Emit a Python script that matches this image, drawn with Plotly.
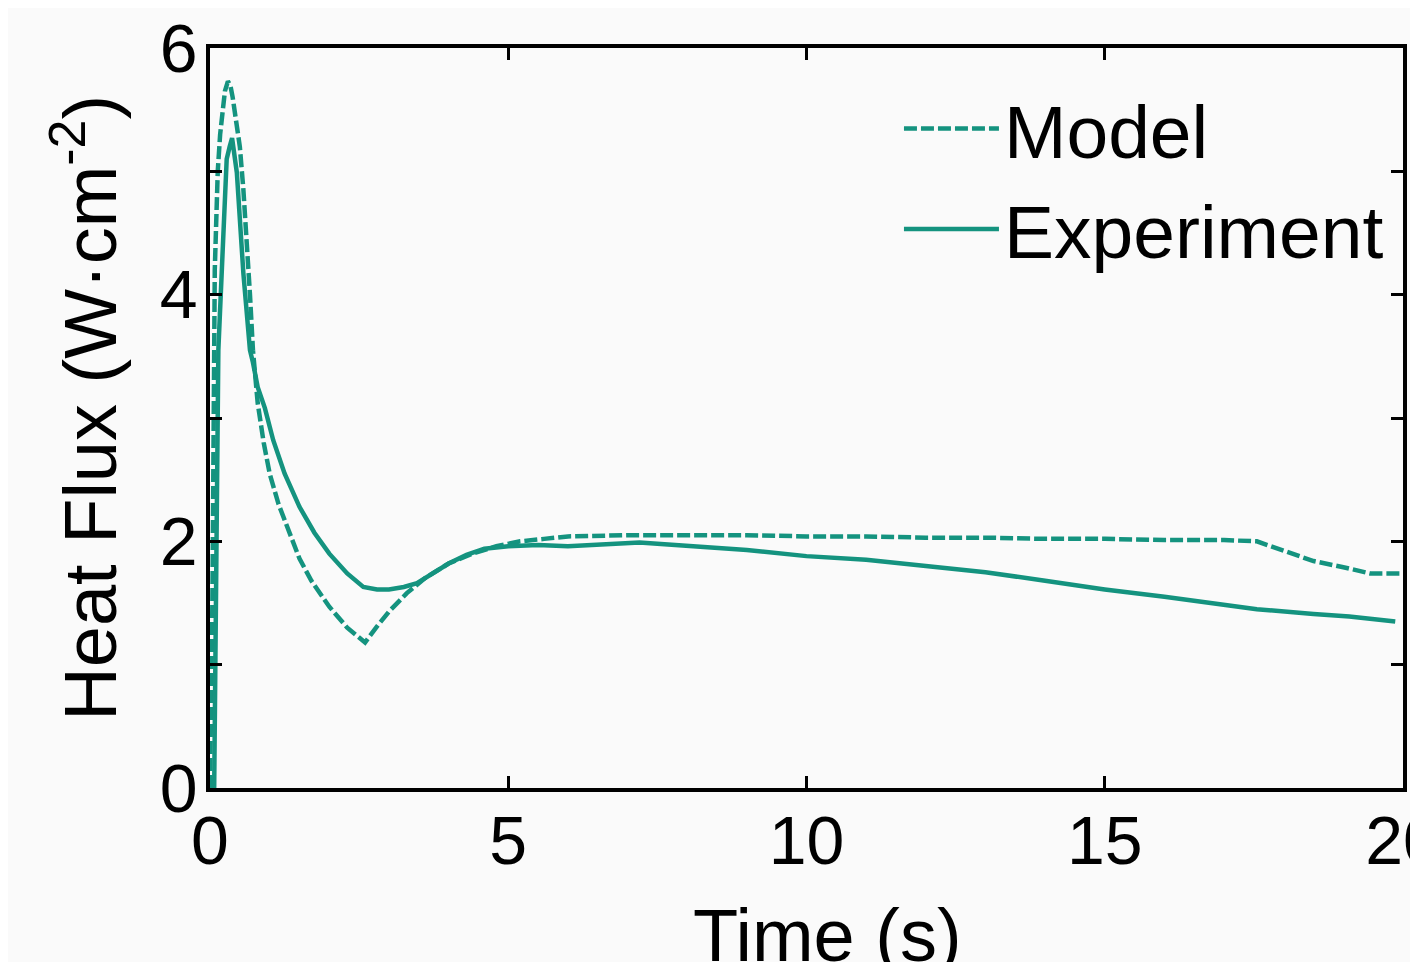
import plotly.graph_objects as go

# ---- data ----
t_model = [0, 0.04, 0.08, 0.13, 0.17, 0.21, 0.25, 0.3, 0.34, 0.38, 0.43, 0.5, 0.56, 0.62, 0.67,
           0.72, 0.8, 0.9, 1.0, 1.15, 1.3, 1.5, 1.7, 2.0, 2.3, 2.6, 2.8, 3.0, 3.3, 3.6, 4.0,
           4.4, 4.8, 5.2, 5.6, 6.0, 7.0, 8.0, 9.0, 10.0, 11.0, 12.0, 13.0, 14.0, 15.0, 16.0,
           17.0, 17.55, 18.0, 18.5, 19.0, 19.45, 20.0]
q_model = [0, 1.5, 4.2, 5.0, 5.3, 5.5, 5.65, 5.73, 5.7, 5.6, 5.45, 5.2, 4.85, 4.44, 4.0,
           3.55, 3.12, 2.8, 2.55, 2.3, 2.1, 1.86, 1.68, 1.47, 1.3, 1.18, 1.31, 1.43, 1.58, 1.7, 1.82,
           1.9, 1.96, 2.0, 2.02, 2.04, 2.05, 2.05, 2.05, 2.04, 2.04, 2.03, 2.03, 2.02, 2.02, 2.01,
           2.01, 2.0, 1.92, 1.84, 1.79, 1.74, 1.74]

t_exp = [0.07, 0.1, 0.14, 0.22, 0.28, 0.33, 0.37, 0.45, 0.56, 0.67, 0.72, 0.8, 0.92,
         1.06, 1.25, 1.5, 1.75, 2.0, 2.3, 2.57, 2.8, 3.0, 3.25, 3.47, 3.75, 4.0, 4.3, 4.6,
         5.0, 5.5, 6.0, 6.5, 7.2, 7.8, 8.5, 9.0, 10.0, 11.0, 12.0, 13.0, 14.0, 15.0, 16.0,
         17.0, 17.55, 18.5, 19.1, 19.87]
q_exp = [0, 1.8, 3.55, 4.44, 5.1, 5.2, 5.27, 4.99, 4.17, 3.55, 3.45, 3.25, 3.08,
         2.82, 2.55, 2.28, 2.07, 1.9, 1.74, 1.63, 1.61, 1.61, 1.63, 1.66, 1.74, 1.82, 1.89, 1.94,
         1.96, 1.97, 1.96, 1.97, 1.99, 1.97, 1.95, 1.93, 1.88, 1.85, 1.8, 1.75, 1.68, 1.61, 1.55,
         1.49, 1.45, 1.41, 1.39, 1.35]

x_ticks = [0, 5, 10, 15, 20]
y_ticks = [0, 2, 4, 6]

COLOR = "#14937f"
FONT = "Liberation Sans, Arial, sans-serif"

fig = go.Figure()
fig.add_trace(go.Scatter(x=t_model, y=q_model, mode="lines", name="Model",
                         line=dict(color=COLOR, width=4.5, dash="13px,4px")))
fig.add_trace(go.Scatter(x=t_exp, y=q_exp, mode="lines", name="Experiment",
                         line=dict(color=COLOR, width=4.5)))

fig.update_layout(
    width=1402, height=954,
    margin=dict(l=202, r=7, t=40, b=174),
    paper_bgcolor="#fafafa", plot_bgcolor="#fafafa",
    font=dict(family=FONT, color="black", size=68),
    showlegend=True,
    legend=dict(x=0.5775, y=0.966, xanchor="left", yanchor="top",
                bgcolor="rgba(0,0,0,0)", font=dict(size=75),
                itemwidth=95, tracegroupgap=0),
    annotations=[
        dict(text="Time (s)", xref="paper", yref="paper", x=0.518, y=0,
             xanchor="center", yanchor="middle", yshift=-147, showarrow=False,
             font=dict(size=74)),
        dict(text="Heat Flux (W·cm<sup>-2</sup>)", xref="paper", yref="paper",
             x=0, y=0.514, xanchor="center", yanchor="middle", xshift=-125,
             textangle=-90, showarrow=False, font=dict(size=74)),
    ],
)
fig.update_xaxes(
    range=[0, 20], tickvals=x_ticks, ticktext=[str(v) for v in x_ticks],
    showline=True, linecolor="black", linewidth=3.5, mirror="ticks",
    ticks="inside", ticklen=12, tickwidth=2.5, tickcolor="black",
    showgrid=False, zeroline=False, automargin=False,
    tickfont=dict(size=68), ticklabelstandoff=-9, ticklabeloverflow="allow",
)
fig.update_yaxes(
    range=[0, 6], tickvals=y_ticks, ticktext=[str(v) for v in y_ticks],
    showline=True, linecolor="black", linewidth=3.5, mirror="ticks",
    ticks="inside", ticklen=12, tickwidth=2.5, tickcolor="black",
    minor=dict(dtick=1, ticks="inside", ticklen=12, tickwidth=2.5, tickcolor="black", showgrid=False),
    showgrid=False, zeroline=False, automargin=False,
    tickfont=dict(size=68), ticklabelstandoff=-5, ticklabeloverflow="allow",
)

fig.write_html("out.html")
